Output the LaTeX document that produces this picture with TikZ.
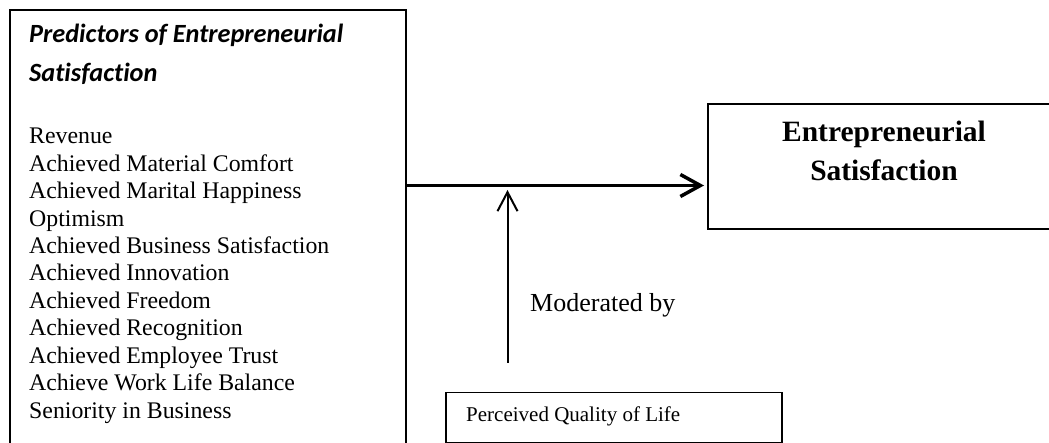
\documentclass[tikz,border=0pt]{standalone}
\usepackage{fontspec}
\setmainfont{Liberation Serif}
\newfontfamily\headfont[Ligatures=NoCommon]{Carlito}
\usepackage{tikz}
\usetikzlibrary{arrows.meta}

\begin{document}
\begin{tikzpicture}[
  x=1pt, y=-1pt,
  frame/.style={draw, line width=1.8pt, inner sep=0pt},
  heading/.style={anchor=base west, inner sep=0pt,
    font=\headfont\bfseries\itshape\fontsize{26.3}{32}\selectfont},
  factor/.style={anchor=base west, inner sep=0pt, font=\fontsize{23.8}{27}\selectfont},
  outtext/.style={anchor=base, inner sep=0pt, font=\bfseries\fontsize{29.5}{34}\selectfont},
]

\useasboundingbox (0,0) rectangle (1049,443);
\clip (0,0) rectangle (1049,443);

% boxes (left and right ones run off the page)
\node (predictors) [frame, anchor=north west, minimum width=396pt, minimum height=500pt] at (9,9) {};
\node (outcome) [frame, anchor=north west, minimum width=354pt, minimum height=125pt] at (707,103) {};
\node (moderator) [frame, anchor=north west, minimum width=336pt, minimum height=50pt] at (445,391.5) {};

% predictor list
\node (headA) [heading] at (29,43) {Predictors of Entrepreneurial};
\node (headB) [heading] at (29,82) {Satisfaction};
\foreach \txt [count=\i from 0] in {Revenue, Achieved Material Comfort,
    Achieved Marital Happiness, Optimism, Achieved Business Satisfaction,
    Achieved Innovation, Achieved Freedom, Achieved Recognition,
    Achieved Employee Trust, Achieve Work Life Balance, Seniority in Business}
  \node (item\i) [factor] at (29,{144+27.4*\i}) {\txt};

\node (outA) [outtext] at (884,141.7) {Entrepreneurial};
\node (outB) [outtext] at (884,181) {Satisfaction};

\node (modlabel) [anchor=base west, inner sep=0pt, font=\fontsize{26}{30}\selectfont] at (530,311.7) {Moderated by};
\node (qol) [anchor=base west, inner sep=0pt, font=\fontsize{21}{25}\selectfont] at (466,421.7) {Perceived Quality of Life};

% arrows
\coordinate (split) at (405,185.5);
\coordinate (modfoot) at (507.5,363);
\draw [line width=3.5pt, -{Straight Barb[length=20pt,width=22pt]}]
  (split) -- ([xshift=-3pt]outcome.west |- split);
\draw [line width=2pt, -{Straight Barb[length=19pt,width=20pt]}]
  (modfoot) -- ([yshift=-4.5pt]modfoot |- split);

\end{tikzpicture}
\end{document}
